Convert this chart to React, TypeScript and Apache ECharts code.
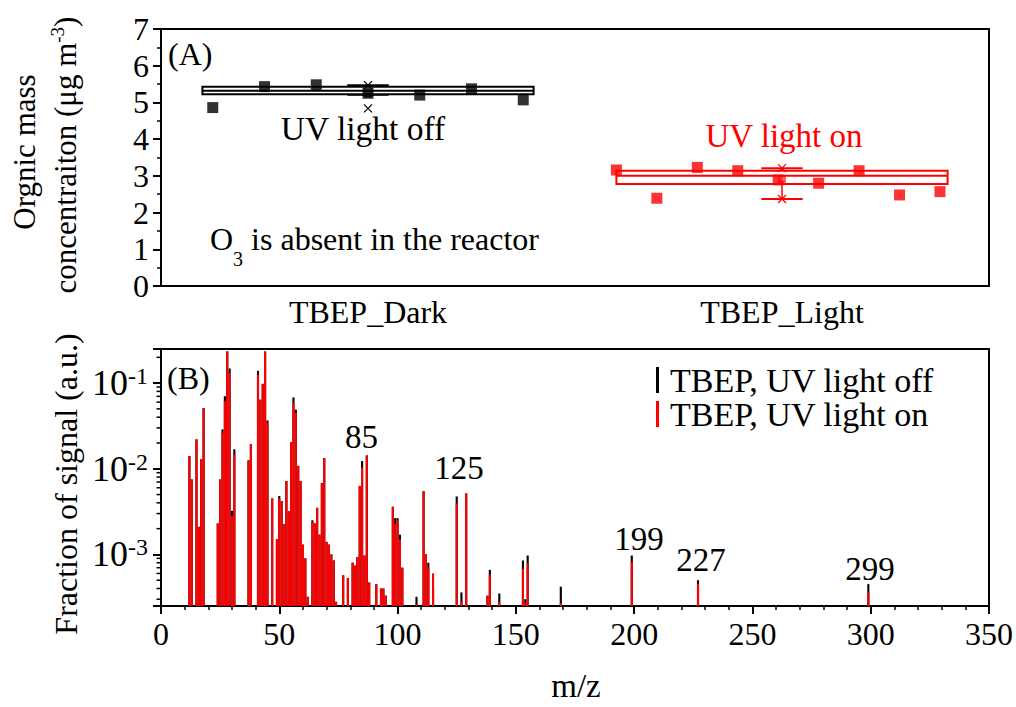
import React, { useEffect, useRef } from 'react';
import * as echarts from 'echarts';

const FONT = "'Liberation Serif', 'Times New Roman', Times, serif";
const BLACK = '#000000';
const RED = '#ff0000';

// ---------- Panel A data ----------
const CATEGORIES = ['TBEP_Dark', 'TBEP_Light'];
const DARK_VALUES = [4.86, 5.43, 5.48, 5.25, 5.2, 5.37, 5.07];
const LIGHT_VALUES = [3.16, 2.39, 3.23, 3.14, 2.89, 2.8, 3.14, 2.48, 2.57];
// [lower whisker, Q1, median, Q3, upper whisker, mean, min, max]
const DARK_BOX = [5.21, 5.22, 5.32, 5.43, 5.47, 5.24, 4.84, 5.47];
const LIGHT_BOX = [2.37, 2.78, 3.0, 3.14, 3.21, 2.92, 2.37, 3.21];

// ---------- Panel B data ----------
const MZ = [
  12, 13, 15, 16, 17, 18, 24, 25, 26, 27, 28, 29, 30, 31, 37, 38, 41, 42, 43, 44, 45, 47, 49, 50, 51, 52, 53, 54,
  55, 56, 57, 58, 59, 60, 61, 62, 64, 65, 66, 67, 68, 69, 70, 71, 72, 73, 74, 77, 79, 81, 82, 83, 84, 85, 86, 87,
  88, 91, 93, 94, 95, 98, 99, 100, 101, 102, 108, 111, 112, 113, 115, 125, 127, 129, 138, 139, 143, 153, 154, 155,
  169, 199, 227, 299,
];
const SIGNAL_OFF = [
  0.0141, 0.0075, 0.022, 0.0021, 0.0129, 0.051, 0.0023, 0.0075, 0.0288, 0.0703, 0.234, 0.148, 0.00323, 0.0169,
  0.0126, 0.0193, 0.139, 0.064, 0.098, 0.234, 0.0366, 0.0045, 0.0015, 0.0048, 0.0042, 0.00226, 0.0072, 0.0032,
  0.0205, 0.068, 0.049, 0.0108, 0.0072, 0.0013, 0.0009, 0.00032, 0.0025, 0.0023, 0.0035, 0.0017, 0.0068, 0.0133,
  0.0014, 0.0013, 0.001, 0.00085, 0.00028, 0.00057, 0.00053, 0.0008, 0.00074, 0.00093, 0.0063, 0.0123, 0.00097,
  0.0143, 0.00047, 0.00045, 0.0004, 0.0004, 0.00033, 0.0036, 0.00265, 0.00265, 0.0017, 0.0007, 0.00032, 0.0055,
  0.001, 0.0008, 0.0004, 0.00475, 0.00036, 0.0051, 0.00033, 0.00066, 0.00035, 0.00085, 0.0003, 0.00097, 0.00042,
  0.00097, 0.0005, 0.00045,
];
const SIGNAL_ON = [
  0.0141, 0.0075, 0.022, 0.0021, 0.0128, 0.051, 0.0023, 0.0075, 0.0264, 0.0615, 0.234, 0.131, 0.00283, 0.0147,
  0.0123, 0.0193, 0.125, 0.064, 0.098, 0.234, 0.0344, 0.0045, 0.0015, 0.0045, 0.0042, 0.00226, 0.0072, 0.0032,
  0.0205, 0.059, 0.045, 0.0108, 0.0072, 0.0013, 0.0009, 0.00032, 0.0024, 0.0023, 0.0035, 0.0017, 0.0068, 0.0133,
  0.0014, 0.0013, 0.001, 0.00085, 0.00028, 0.00057, 0.00053, 0.0008, 0.00074, 0.00093, 0.0063, 0.0103, 0.00097,
  0.0143, 0.00047, 0.00045, 0.0004, 0.0004, 0.00033, 0.0036, 0.00226, 0.0025, 0.0015, 0.0007, 0.00026, 0.0055,
  0.001, 0.0007, 0.0006, 0.0039, 0.00028, 0.0052, 0.00033, 0.00058, 0.00028, 0.00068, 0.00027, 0.00079, 0.00027,
  0.00082, 0.00045, 0.00036,
];
const PEAK_LABELS = ['85', '125', '199', '227', '299'];
const SERIES_NAMES = ['TBEP, UV light off', 'TBEP, UV light on'];

const Y_LOG_MIN = 0.00025;
const Y_LOG_MAX = 0.25;

const LOG_MINOR: number[] = [];
[-4, -3, -2, -1].forEach((e) => {
  for (let k = 2; k <= 9; k++) {
    const v = k * Math.pow(10, e);
    if (v > Y_LOG_MIN * 1.001 && v < Y_LOG_MAX * 0.999) LOG_MINOR.push(v);
  }
});

const txt = (text: string, x: number, y: number, extra: any = {}, rotation = 0) => ({
  type: 'text',
  x,
  y,
  rotation,
  silent: true,
  style: {
    text,
    fontFamily: FONT,
    fontSize: 33,
    fill: BLACK,
    align: 'center',
    verticalAlign: 'middle',
    ...extra,
  },
});

function renderBox(params: any, api: any) {
  const c = api.value(0);
  const wl = api.value(1);
  const q1 = api.value(2);
  const med = api.value(3);
  const q3 = api.value(4);
  const wh = api.value(5);
  const mean = api.value(6);
  const mn = api.value(7);
  const mx = api.value(8);
  const color = c === 0 ? BLACK : RED;
  const hw = 0.4;
  const cw = 0.05;
  const P = (x: number, y: number) => api.coord([x, y]);
  const line = (a: number[], b: number[], lw = 2) => ({
    type: 'line',
    shape: { x1: a[0], y1: a[1], x2: b[0], y2: b[1] },
    style: { stroke: color, lineWidth: lw },
  });
  const cross = (pt: number[]) => {
    const s = 4;
    return [
      line([pt[0] - s, pt[1] - s], [pt[0] + s, pt[1] + s], 1.2),
      line([pt[0] - s, pt[1] + s], [pt[0] + s, pt[1] - s], 1.2),
    ];
  };
  const tl = P(c - hw, q3);
  const br = P(c + hw, q1);
  const m = P(c, mean);
  return {
    type: 'group',
    children: [
      line(P(c, q3), P(c, wh), 1.5),
      line(P(c, q1), P(c, wl), 1.5),
      line(P(c - cw, wh), P(c + cw, wh)),
      line(P(c - cw, wl), P(c + cw, wl)),
      {
        type: 'rect',
        shape: { x: tl[0], y: tl[1], width: br[0] - tl[0], height: br[1] - tl[1] },
        style: { fill: '#ffffff', stroke: color, lineWidth: 2 },
      },
      line(P(c - hw, med), P(c + hw, med)),
      {
        type: 'rect',
        shape: { x: m[0] - 3, y: m[1] - 3, width: 6, height: 6 },
        style: { fill: 'none', stroke: color, lineWidth: 1.2 },
      },
      ...cross(P(c, mn)),
      ...cross(P(c, mx)),
    ],
  };
}

const renderStick = (color: string) => (params: any, api: any) => {
  const m = api.value(0);
  const v = api.value(1);
  const top = api.coord([m, v]);
  const l = api.coord([m - 0.45, v])[0];
  const r = api.coord([m + 0.45, v])[0];
  const bottom = params.coordSys.y + params.coordSys.height;
  return {
    type: 'rect',
    shape: { x: l, y: top[1], width: r - l, height: bottom - top[1] },
    style: { fill: color },
  };
};

const renderMinorTick = (params: any, api: any) => {
  const pt = api.coord([0, api.value(1)]);
  return {
    type: 'line',
    shape: { x1: pt[0] - 4.5, y1: pt[1], x2: pt[0], y2: pt[1] },
    style: { stroke: BLACK, lineWidth: 1.5 },
  };
};

const axisText = { fontFamily: FONT, fontSize: 32, color: BLACK };

export default function App() {
  const ref = useRef<HTMLDivElement>(null);
  useEffect(() => {
    if (!ref.current) return;
    const chart = echarts.init(ref.current, undefined, { renderer: 'svg' });

    const darkPts = DARK_VALUES.map((v, i) => [0 - 0.375 + i * 0.125, v]);
    const lightPts = LIGHT_VALUES.map((v, i) => [1 - 0.4 + i * 0.0977, v]);

    const option: any = {
      animation: false,
      backgroundColor: '#ffffff',
      grid: [
        { left: 161, top: 29, width: 828, height: 257, show: true, borderColor: BLACK, borderWidth: 2, backgroundColor: 'transparent' },
        { left: 161, top: 349, width: 828, height: 257, show: true, borderColor: BLACK, borderWidth: 2, backgroundColor: 'transparent' },
      ],
      xAxis: [
        {
          type: 'category',
          gridIndex: 0,
          data: CATEGORIES,
          axisLine: { lineStyle: { color: BLACK, width: 2 } },
          axisTick: { alignWithLabel: true, length: 9, lineStyle: { color: BLACK, width: 2 } },
          axisLabel: { ...axisText, margin: 10 },
          splitLine: { show: false },
        },
        { type: 'value', gridIndex: 0, min: -0.5, max: 1.5, show: false },
        {
          type: 'value',
          gridIndex: 1,
          min: 0,
          max: 350,
          interval: 50,
          axisLine: { lineStyle: { color: BLACK, width: 2 } },
          axisTick: { length: 8, lineStyle: { color: BLACK, width: 2 } },
          minorTick: { show: true, splitNumber: 5, length: 4, lineStyle: { color: BLACK, width: 1.5 } },
          axisLabel: { ...axisText, margin: 12 },
          splitLine: { show: false },
          minorSplitLine: { show: false },
        },
      ],
      yAxis: [
        {
          type: 'value',
          gridIndex: 0,
          min: 0,
          max: 7,
          interval: 1,
          axisLine: { show: true, onZero: false, lineStyle: { color: BLACK, width: 2 } },
          axisTick: { show: true, length: 8, lineStyle: { color: BLACK, width: 2 } },
          minorTick: { show: true, splitNumber: 2, length: 4, lineStyle: { color: BLACK, width: 1.5 } },
          axisLabel: { ...axisText, margin: 12 },
          splitLine: { show: false },
        },
        {
          type: 'log',
          gridIndex: 1,
          logBase: 10,
          min: Y_LOG_MIN,
          max: Y_LOG_MAX,
          splitNumber: 3,
          axisLine: { show: true, onZero: false, lineStyle: { color: BLACK, width: 2 } },
          axisTick: { show: true, length: 8, lineStyle: { color: BLACK, width: 2 } },
          splitLine: { show: false },
          axisLabel: {
            margin: 13,
            formatter: (v: number) => {
              const e = Math.log10(v);
              if (Math.abs(e - Math.round(e)) > 1e-6) return '';
              return '{b|10}{s|' + Math.round(e) + '}';
            },
            rich: {
              b: { fontFamily: FONT, fontSize: 36, color: BLACK, lineHeight: 38, verticalAlign: 'middle' },
              s: { fontFamily: FONT, fontSize: 24, color: BLACK, lineHeight: 16, verticalAlign: 'top' },
            },
          },
        },
      ],
      legend: {
        orient: 'vertical',
        left: 651,
        top: 358,
        itemWidth: 3,
        itemHeight: 26,
        itemGap: 0,
        icon: 'rect',
        selectedMode: false,
        textStyle: { fontFamily: FONT, fontSize: 34, color: BLACK, padding: [0, 0, 0, 6] },
        data: [
          { name: SERIES_NAMES[0], itemStyle: { color: BLACK } },
          { name: SERIES_NAMES[1], itemStyle: { color: RED } },
        ],
      },
      series: [
        {
          type: 'custom',
          name: 'box',
          xAxisIndex: 1,
          yAxisIndex: 0,
          renderItem: renderBox,
          encode: { x: 0, y: [1, 2, 3, 4, 5] },
          data: [
            [0, ...DARK_BOX],
            [1, ...LIGHT_BOX],
          ],
          silent: true,
          z: 2,
        },
        {
          type: 'scatter',
          name: 'dark points',
          xAxisIndex: 1,
          yAxisIndex: 0,
          symbol: 'rect',
          symbolSize: 11,
          itemStyle: { color: BLACK },
          data: darkPts,
          z: 3,
        },
        {
          type: 'scatter',
          name: 'light points',
          xAxisIndex: 1,
          yAxisIndex: 0,
          symbol: 'rect',
          symbolSize: 11,
          itemStyle: { color: RED },
          data: lightPts,
          z: 3,
        },
        {
          type: 'custom',
          name: SERIES_NAMES[0],
          xAxisIndex: 2,
          yAxisIndex: 1,
          itemStyle: { color: BLACK },
          renderItem: renderStick(BLACK),
          encode: { x: 0, y: 1 },
          data: MZ.map((m, i) => [m, SIGNAL_OFF[i]]),
          clip: true,
          z: 2,
        },
        {
          type: 'custom',
          name: SERIES_NAMES[1],
          xAxisIndex: 2,
          yAxisIndex: 1,
          itemStyle: { color: RED },
          renderItem: renderStick(RED),
          encode: { x: 0, y: 1 },
          data: MZ.map((m, i) => [m, SIGNAL_ON[i]]),
          clip: true,
          z: 3,
        },
        {
          type: 'custom',
          name: 'minor ticks',
          xAxisIndex: 2,
          yAxisIndex: 1,
          renderItem: renderMinorTick,
          encode: { x: 0, y: 1 },
          data: LOG_MINOR.map((v) => [0, v]),
          clip: false,
          silent: true,
          z: 4,
        },
      ],
      graphic: [
        txt('Orgnic mass', 24, 152, { fontSize: 31 }, Math.PI / 2),
        {
          type: 'text',
          x: 65,
          y: 155,
          rotation: Math.PI / 2,
          silent: true,
          style: {
            text: '{a|concentraiton (μg m}{s|-3}{a|)}',
            align: 'center',
            verticalAlign: 'middle',
            rich: {
              a: { fontFamily: FONT, fontSize: 31, fill: BLACK, color: BLACK, lineHeight: 34, verticalAlign: 'middle' },
              s: { fontFamily: FONT, fontSize: 19, fill: BLACK, color: BLACK, lineHeight: 12, verticalAlign: 'top' },
            },
          },
        },
        txt('Fraction of signal (a.u.)', 66, 484, { fontSize: 32 }, Math.PI / 2),
        txt('(A)', 168, 54, { align: 'left', fontSize: 32 }),
        txt('UV light off', 363, 128, { fontSize: 33.5 }),
        txt('UV light on', 784, 136, { fill: RED }),
        {
          type: 'text',
          x: 210,
          y: 222.5,
          silent: true,
          style: {
            text: '{a|O}{b|3}{a| is absent in the reactor}',
            align: 'left',
            verticalAlign: 'top',
            rich: {
              a: { fontFamily: FONT, fontSize: 32, fill: BLACK, color: BLACK, lineHeight: 32, verticalAlign: 'top' },
              b: { fontFamily: FONT, fontSize: 20, fill: BLACK, color: BLACK, lineHeight: 46, verticalAlign: 'bottom' },
            },
          },
        },
        txt('(B)', 167, 378, { align: 'left', fontSize: 32 }),
        txt(PEAK_LABELS[0], 361.5, 436.5),
        txt(PEAK_LABELS[1], 459, 468),
        txt(PEAK_LABELS[2], 639, 539),
        txt(PEAK_LABELS[3], 701, 560),
        txt(PEAK_LABELS[4], 870, 569),
        txt('m/z', 576, 686),
      ],
    };

    chart.setOption(option);
    return () => chart.dispose();
  }, []);

  return (
    <div
      ref={ref}
      style={{ position: 'fixed', left: 0, top: 0, width: 1016, height: 707, background: '#fff' }}
    />
  );
}
